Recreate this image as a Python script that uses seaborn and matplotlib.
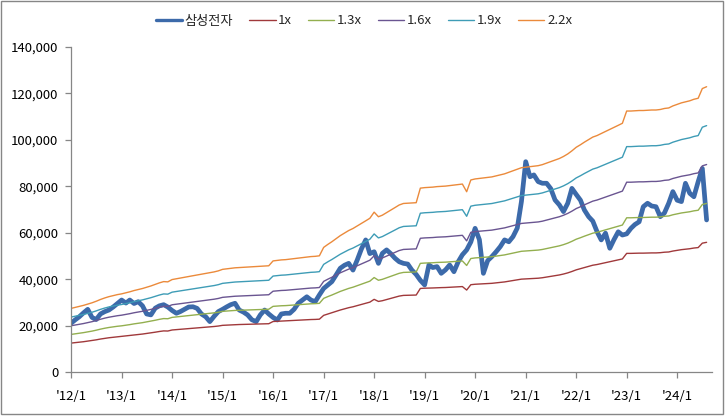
import pandas as pd
import seaborn as sns
import matplotlib.pyplot as plt
from matplotlib.patches import Rectangle
from matplotlib.ticker import FuncFormatter

# monthly readings, Jan 2012 .. Aug 2024
dates = pd.date_range("2012-01-01", periods=152, freq="MS")

# Samsung Electronics close (KRW, split adjusted)
price = [
    21000, 22500, 23800, 25500, 27000, 23500, 22600, 25000, 26000, 26700, 28000, 29500,  # 2012
    31000, 29700, 31000, 29500, 30300, 28500, 25000, 24600, 27500, 28500, 29000, 28000,  # 2013
    26500, 25300, 26000, 27000, 28000, 28100, 27400, 25000, 23800, 21700, 24000, 26000,  # 2014
    27000, 28100, 29000, 29600, 26700, 25800, 24600, 22500, 21700, 24600, 26700, 25000,  # 2015
    23500, 22400, 25000, 25300, 25300, 27000, 29600, 31000, 32400, 31000, 30300, 33200,  # 2016
    36000, 37500, 38900, 41800, 44700, 46000, 46800, 43900, 48300, 53000, 56900, 51000,  # 2017
    51800, 46800, 51100, 52600, 51000, 49000, 47500, 46800, 46500, 43900, 42000, 39500,  # 2018
    37500, 46100, 45000, 45400, 42500, 44000, 46100, 43200, 47500, 50500, 52600, 56000,  # 2019
    61900, 57000, 42500, 48000, 49700, 51800, 54000, 56900, 56100, 58300, 62000, 73400,  # 2020
    90600, 84100, 84900, 82000, 81300, 81300, 79000, 74100, 72000, 69100, 72700, 79100,  # 2021
    76500, 74000, 69800, 66900, 65000, 60400, 56900, 59800, 53300, 57000, 60400, 59000,  # 2022
    59500, 61900, 63500, 64700, 71200, 72700, 71500, 71200, 66900, 68500, 72700, 77700,  # 2023
    74000, 73400, 81300, 77000, 75500, 82000, 87700, 65500,                              # 2024
]

# book value per share (1x band)
bps = [
    12450, 12650, 12850, 13050, 13300, 13550, 13850, 14200, 14500, 14750, 14950, 15150,
    15300, 15500, 15700, 15950, 16150, 16350, 16600, 16850, 17150, 17450, 17700, 17650,
    18100, 18250, 18400, 18550, 18700, 18850, 19000, 19150, 19300, 19450, 19600, 19800,
    20100, 20200, 20300, 20400, 20450, 20500, 20550, 20600, 20650, 20700, 20750, 20800,
    21750, 21850, 21950, 22000, 22100, 22200, 22300, 22400, 22500, 22600, 22650, 22750,
    24400, 25000, 25500, 26100, 26700, 27200, 27700, 28100, 28600, 29100, 29600, 30100,
    31300, 30400, 30700, 31200, 31700, 32200, 32700, 33000, 33050, 33100, 33150, 36000,
    36100, 36150, 36200, 36300, 36350, 36400, 36500, 36600, 36700, 36800, 35300, 37600,
    37800, 37900, 38000, 38100, 38200, 38400, 38600, 38800, 39100, 39400, 39700, 40000,
    40100, 40200, 40300, 40400, 40600, 40900, 41200, 41500, 41800, 42200, 42700, 43300,
    44000, 44500, 45000, 45500, 46000, 46300, 46700, 47100, 47500, 47900, 48300, 48700,
    51100, 51100, 51150, 51200, 51200, 51250, 51300, 51300, 51400, 51600, 51700, 52100,
    52400, 52700, 52900, 53100, 53400, 53600, 55500, 55860,
]

multiples = [1.0, 1.3, 1.6, 1.9, 2.2]
band_labels = ["1x", "1.3x", "1.6x", "1.9x", "2.2x"]
band_colors = ["#A0393B", "#93AF4F", "#6A5591", "#3E9CB6", "#EB8A3B"]

year_ticks = pd.date_range("2012-01-01", "2024-01-01", freq="YS")
x_labels = ["'%02d/1" % (d.year % 100) for d in year_ticks]

df = pd.DataFrame({"date": dates, "삼성전자": price})
for m, lab in zip(multiples, band_labels):
    df[lab] = [b * m for b in bps]

sns.set_theme(style="white")
plt.rcParams['font.family'] = ['Noto Sans CJK KR', 'DejaVu Sans']

fig = plt.figure(figsize=(7.25, 4.18), dpi=100)
ax = fig.add_axes([71 / 725, 46 / 418, 641 / 725, 325 / 418])

# price first, bands drawn over it
sns.lineplot(data=df, x="date", y="삼성전자", color="#3C6AAA", linewidth=3.4,
             label="삼성전자", ax=ax)
for lab, c in zip(band_labels, band_colors):
    sns.lineplot(data=df, x="date", y=lab, color=c, linewidth=1.0, label=lab, ax=ax)

ax.set_xlim(pd.Timestamp("2012-01-01"), pd.Timestamp("2024-09-09"))
ax.set_ylim(0, 140000)
ax.set_yticks(range(0, 140001, 20000))
ax.yaxis.set_major_formatter(FuncFormatter(lambda v, p: f"{v:,.0f}"))
ax.set_xticks(year_ticks)
ax.set_xticklabels(x_labels)
ax.set_xlabel("")
ax.set_ylabel("")

for s in ["top", "right"]:
    ax.spines[s].set_visible(False)
for s in ["left", "bottom"]:
    ax.spines[s].set_color("#868686")
    ax.spines[s].set_linewidth(0.9)
ax.tick_params(axis="y", direction="out", length=4, width=0.9, color="#868686",
               labelsize=9.5, labelcolor="black", pad=5, left=True)
ax.tick_params(axis="x", direction="out", length=4, width=0.9, color="#868686",
               labelsize=9.5, labelcolor="black", pad=9, bottom=True)

leg = ax.legend(loc="center", bbox_to_anchor=(364 / 725, 1 - 21 / 418),
                bbox_transform=fig.transFigure, ncol=6, frameon=False, fontsize=9.5,
                handlelength=2.0, handletextpad=0.2, columnspacing=1.2)
leg.get_lines()[0].set_linewidth(2.4)

fig.patches.append(Rectangle((1 / 725, 4 / 418), 722 / 725, 413 / 418,
                             transform=fig.transFigure, fill=False,
                             edgecolor="#868686", linewidth=1.0))

fig.savefig("out.png", dpi=100)
